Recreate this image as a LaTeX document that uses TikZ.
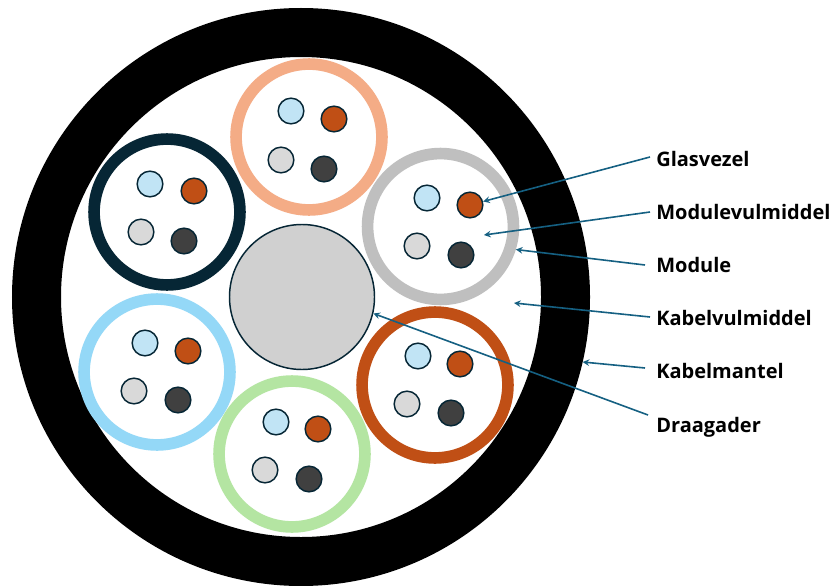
\documentclass[tikz,border=0pt]{standalone}
\usepackage{fontspec}
\setmainfont{Open Sans}
\definecolor{pijlblauw}{HTML}{156082}
\definecolor{marine}{HTML}{062635}
\definecolor{zalm}{HTML}{F4AC86}
\definecolor{hemelblauw}{HTML}{94D8F7}
\definecolor{lichtgroen}{HTML}{B4E5A2}
\definecolor{roest}{HTML}{C04F15}
\definecolor{zilver}{HTML}{BFBFBF}
\definecolor{vezelblauw}{HTML}{C1E4F5}
\definecolor{vezelgrijs}{HTML}{D9D9D9}
\definecolor{vezeldonker}{HTML}{404040}
\definecolor{kern}{HTML}{D0D0D0}
\tikzset{
  module/.style={circle, draw=#1, line width=8.75pt, minimum size=109.4pt, inner sep=0pt, fill=white},
  vezel/.style={circle, draw=marine, line width=1.1pt, minimum size=19.25pt, inner sep=0pt, fill=#1},
  etiket/.style={anchor=base west, inner sep=0pt, inner xsep=4.5pt, font=\fontsize{15pt}{18pt}\selectfont\bfseries},
  pijl/.style={->, >=stealth, draw=pijlblauw, line width=1.2pt},
}
\begin{document}
\begin{tikzpicture}[x=0.75pt, y=-0.75pt]
\useasboundingbox (0, 0) rectangle (834, 585);
% kabel
\node (mantel)[circle, draw=black, line width=36.75pt, minimum size=396.75pt, inner sep=0pt, fill=white] at (301, 297) {};
\node (draagader)[circle, draw=marine, line width=1.1pt, minimum size=108.75pt, inner sep=0pt, fill=kern] at (302, 297) {};
% modules
\node (mzalm)[module=zalm] at (309, 137) {};
\node (mmarine)[module=marine] at (167, 212) {};
\node (mblauw)[module=hemelblauw] at (157, 372) {};
\node (mgroen)[module=lichtgroen] at (292, 454) {};
\node (mroest)[module=roest] at (435, 385) {};
\node (mgrijs)[module=zilver] at (440.5, 226.5) {};
% vezels
\node (z1)[vezel=vezelblauw] at (291, 111) {};
\node (z2)[vezel=roest] at (334, 119) {};
\node (z3)[vezel=vezelgrijs] at (281, 160) {};
\node (z4)[vezel=vezeldonker] at (324, 169) {};
\node (a1)[vezel=vezelblauw] at (150, 184) {};
\node (a2)[vezel=roest] at (194, 191) {};
\node (a3)[vezel=vezelgrijs] at (141, 232) {};
\node (a4)[vezel=vezeldonker] at (184, 241) {};
\node (b1)[vezel=vezelblauw] at (145, 343) {};
\node (b2)[vezel=roest] at (188, 351) {};
\node (b3)[vezel=vezelgrijs] at (134, 391) {};
\node (b4)[vezel=vezeldonker] at (178, 400) {};
\node (c1)[vezel=vezelblauw] at (276, 422) {};
\node (c2)[vezel=roest] at (318, 429) {};
\node (c3)[vezel=vezelgrijs] at (265, 470) {};
\node (c4)[vezel=vezeldonker] at (309, 479) {};
\node (d1)[vezel=vezelblauw] at (418, 356) {};
\node (d2)[vezel=roest] at (460, 364) {};
\node (d3)[vezel=vezelgrijs] at (407, 404) {};
\node (d4)[vezel=vezeldonker] at (451, 413) {};
\node (e1)[vezel=vezelblauw] at (427, 198) {};
\node (e2)[vezel=roest] at (470, 205) {};
\node (e3)[vezel=vezelgrijs] at (417, 246) {};
\node (e4)[vezel=vezeldonker] at (461, 255) {};
% etiketten
\node (lglas)[etiket] at (650, 166) {Glasvezel};
\node (lmvm)[etiket] at (650, 219) {Modulevulmiddel};
\node (lmod)[etiket] at (650, 272) {Module};
\node (lkvm)[etiket] at (650, 325) {Kabelvulmiddel};
\node (lkm)[etiket] at (650, 378) {Kabelmantel};
\node (ldraag)[etiket] at (650, 432) {Draagader};
\coordinate (pmvm) at (484, 235);
\coordinate (pkvm) at (514, 303);
\draw[pijl] ([yshift=6.75pt]lglas.base west) -- (e2);
\draw[pijl] ([yshift=5.25pt]lmvm.base west) -- (pmvm);
\draw[pijl] ([xshift=-3.75pt, yshift=5.25pt]lmod.base west) -- (mgrijs.-17);
\draw[pijl] ([yshift=6pt]lkvm.base west) -- (pkvm);
\draw[pijl] ([xshift=-3.75pt, yshift=7.5pt]lkm.base west) -- (mantel.-13.5);
\draw[pijl] ([xshift=-1.5pt, yshift=12.75pt]ldraag.base west) -- (draagader.-13);
\end{tikzpicture}
\end{document}
